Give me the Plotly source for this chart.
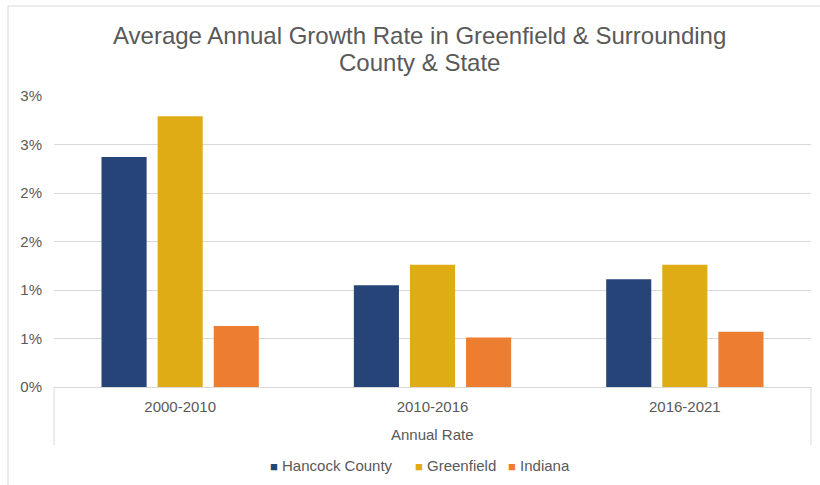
import plotly.graph_objects as go

# Periods and average annual growth rates (percent)
periods = ["2000-2010", "2010-2016", "2016-2021"]
hancock_county = [2.37, 1.05, 1.11]
greenfield = [2.79, 1.26, 1.26]
indiana = [0.63, 0.51, 0.57]

series_names = ["Hancock County", "Greenfield", "Indiana"]
series_colors = ["#264478", "#E0AC16", "#ED7D31"]

tick_vals = [0, 0.5, 1.0, 1.5, 2.0, 2.5, 3.0]
tick_text = ["0%", "1%", "1%", "2%", "2%", "3%", "3%"]

title_lines = ["Average Annual Growth Rate in Greenfield & Surrounding", "County & State"]
x_title = "Annual Rate"

W, H = 820, 485
L, R, T, B = 54, 9, 96, 98
pw, ph = W - L - R, H - T - B

def px_x(x):
    return (x - L) / pw

def px_y(y):
    return (H - B - y) / ph

FONT = "Liberation Sans, Arial, sans-serif"
TXT = "#595959"
LINE = "#D9D9D9"

fig = go.Figure()
for name, vals, col in zip(series_names, [hancock_county, greenfield, indiana], series_colors):
    fig.add_trace(go.Bar(name=name, x=periods, y=vals, showlegend=False,
                         marker=dict(color=col, line=dict(width=0))))

annotations = [
    dict(text=title_lines[0], xref="paper", yref="paper", x=px_x(419), y=px_y(35),
         xanchor="center", yanchor="middle", showarrow=False,
         font=dict(size=24, color=TXT, family=FONT)),
    dict(text=title_lines[1], xref="paper", yref="paper", x=px_x(419), y=px_y(63),
         xanchor="center", yanchor="middle", showarrow=False,
         font=dict(size=24, color=TXT, family=FONT)),
    dict(text=x_title, xref="paper", yref="paper", x=px_x(432), y=px_y(434),
         xanchor="center", yanchor="middle", showarrow=False,
         font=dict(size=15, color=TXT, family=FONT)),
]

# legend row: small coloured square followed by the series name
legend_left = [268, 413, 506]
for name, col, lx in zip(series_names, series_colors, legend_left):
    annotations.append(dict(
        text=f"<span style='color:{col};font-size:13px'>■</span> {name}",
        xref="paper", yref="paper", x=px_x(lx), y=px_y(465),
        xanchor="left", yanchor="middle", showarrow=False,
        font=dict(size=15, color=TXT, family=FONT)))

fig.update_layout(
    width=W, height=H,
    margin=dict(l=L, r=R, t=T, b=B),
    paper_bgcolor="white", plot_bgcolor="white",
    barmode="group", bargap=0.333, bargroupgap=0.196,
    font=dict(family=FONT, color=TXT, size=15),
    showlegend=False,
    xaxis=dict(showgrid=False, showline=True, linecolor=LINE, linewidth=1,
               ticks="", ticklabelstandoff=6, tickfont=dict(size=15, color=TXT), fixedrange=True),
    yaxis=dict(range=[0, 3.0], tickvals=tick_vals, ticktext=tick_text,
               showgrid=True, gridcolor=LINE, gridwidth=1, zeroline=False,
               showline=False, ticks="", ticklabelstandoff=11,
               tickfont=dict(size=15, color=TXT)),
    annotations=annotations,
    shapes=[
        # category axis end dividers
        dict(type="line", xref="paper", yref="paper", x0=0, x1=0, y0=0, y1=px_y(445),
             line=dict(color=LINE, width=1)),
        dict(type="line", xref="paper", yref="paper", x0=1, x1=1, y0=0, y1=px_y(445),
             line=dict(color=LINE, width=1)),
        # chart area border
        dict(type="line", xref="paper", yref="paper", x0=px_x(8), x1=px_x(8), y0=px_y(6), y1=px_y(490),
             line=dict(color=LINE, width=1)),
        dict(type="line", xref="paper", yref="paper", x0=px_x(8), x1=px_x(830), y0=px_y(6), y1=px_y(6),
             line=dict(color=LINE, width=1)),
    ],
)

fig.write_html("out.html")
